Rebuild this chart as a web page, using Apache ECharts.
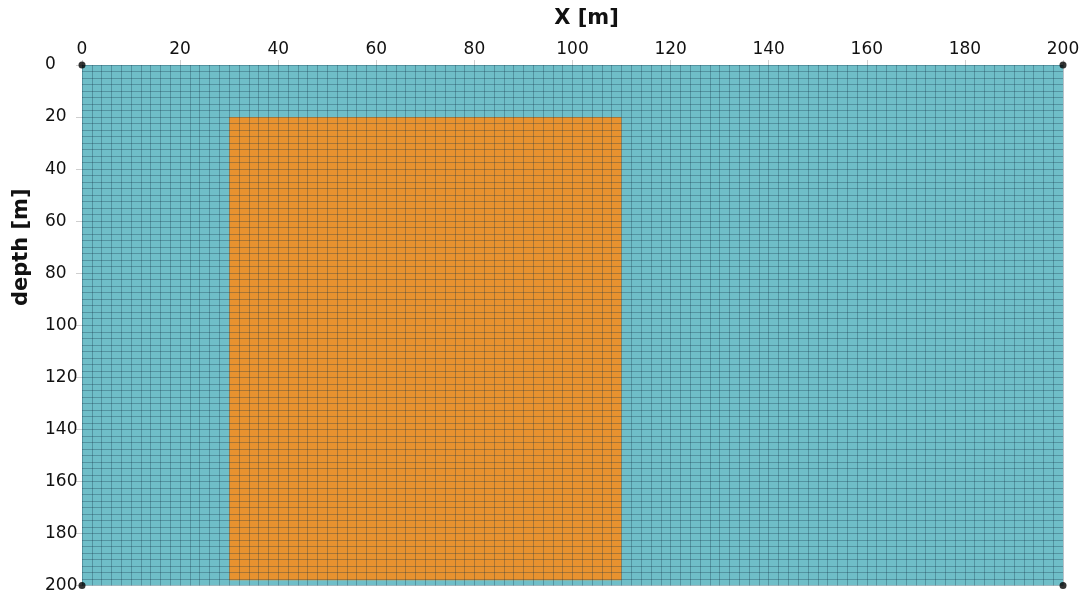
<!DOCTYPE html>
<html>
<head>
<meta charset="utf-8">
<script src="https://cdn.jsdelivr.net/npm/echarts@6/dist/echarts.min.js"></script>
<style>
  html, body { margin: 0; padding: 0; background: #fff; }
  #chart { width: 1091px; height: 594px; }
</style>
</head>
<body>
<div id="chart"></div>
<script>
// Model domain and layer blocks (metres)
const xRange = [0, 200];
const depthRange = [0, 200];
const tickStep = 20;

// Each block: [x start, x end, depth top, depth bottom]
const backgroundBlock = [0, 200, 0, 200];
const anomalyBlock = [30, 110, 20, 198];
const blockColors = ['#6fbec8', '#e8922f'];

// Mesh cells per 20 m tick interval
const cellsPerTickX = 10;
const cellsPerTickDepth = 8;

// Domain corner markers
const cornerPoints = [[0, 0], [200, 0], [0, 200], [200, 200]];

const blocks = [
  backgroundBlock.concat([0]),
  anomalyBlock.concat([1])
];

const meshLine = { color: 'rgba(20, 50, 70, 0.3)', width: 1 };

const chart = echarts.init(document.getElementById('chart'));
chart.setOption({
  animation: false,
  grid: { left: 82, right: 28, top: 65, bottom: 6 },
  xAxis: {
    type: 'value',
    position: 'top',
    min: xRange[0], max: xRange[1], interval: tickStep,
    name: 'X [m]',
    nameLocation: 'middle',
    nameGap: 36,
    nameTextStyle: { fontFamily: 'DejaVu Sans', fontSize: 21, fontWeight: 'bold', color: '#111', padding: [0, 0, 0, 28] },
    z: 5,
    axisLine: { show: false },
    axisTick: { show: true, length: 5, lineStyle: { color: '#cfcfcf' } },
    axisLabel: { fontFamily: 'DejaVu Sans', fontSize: 17, color: '#111', margin: 7 },
    splitLine: { show: true, lineStyle: meshLine },
    minorTick: { show: false, splitNumber: cellsPerTickX },
    minorSplitLine: { show: true, lineStyle: meshLine }
  },
  yAxis: {
    type: 'value',
    inverse: true,
    min: depthRange[0], max: depthRange[1], interval: tickStep,
    name: 'depth [m]',
    nameLocation: 'middle',
    nameGap: 50,
    nameTextStyle: { fontFamily: 'DejaVu Sans', fontSize: 21, fontWeight: 'bold', color: '#111', padding: [0, 0, 0, 156] },
    z: 5,
    axisLine: { show: false },
    axisTick: { show: true, length: 6, lineStyle: { color: '#cfcfcf' } },
    axisLabel: { fontFamily: 'DejaVu Sans', fontSize: 17, color: '#111', align: 'left', margin: 37, padding: [0, 0, 8, 0] },
    splitLine: { show: true, lineStyle: meshLine },
    minorTick: { show: false, splitNumber: cellsPerTickDepth },
    minorSplitLine: { show: true, lineStyle: meshLine }
  },
  series: [
    {
      type: 'custom',
      z: 2,
      clip: true,
      data: blocks,
      renderItem: function (params, api) {
        const p0 = api.coord([api.value(0), api.value(2)]);
        const p1 = api.coord([api.value(1), api.value(3)]);
        return {
          type: 'rect',
          shape: {
            x: Math.min(p0[0], p1[0]),
            y: Math.min(p0[1], p1[1]),
            width: Math.abs(p1[0] - p0[0]),
            height: Math.abs(p1[1] - p0[1])
          },
          style: { fill: blockColors[api.value(4)] }
        };
      }
    },
    {
      type: 'scatter',
      z: 10,
      clip: false,
      symbolSize: 7,
      itemStyle: { color: '#000' },
      data: cornerPoints
    }
  ]
});
</script>
</body>
</html>
